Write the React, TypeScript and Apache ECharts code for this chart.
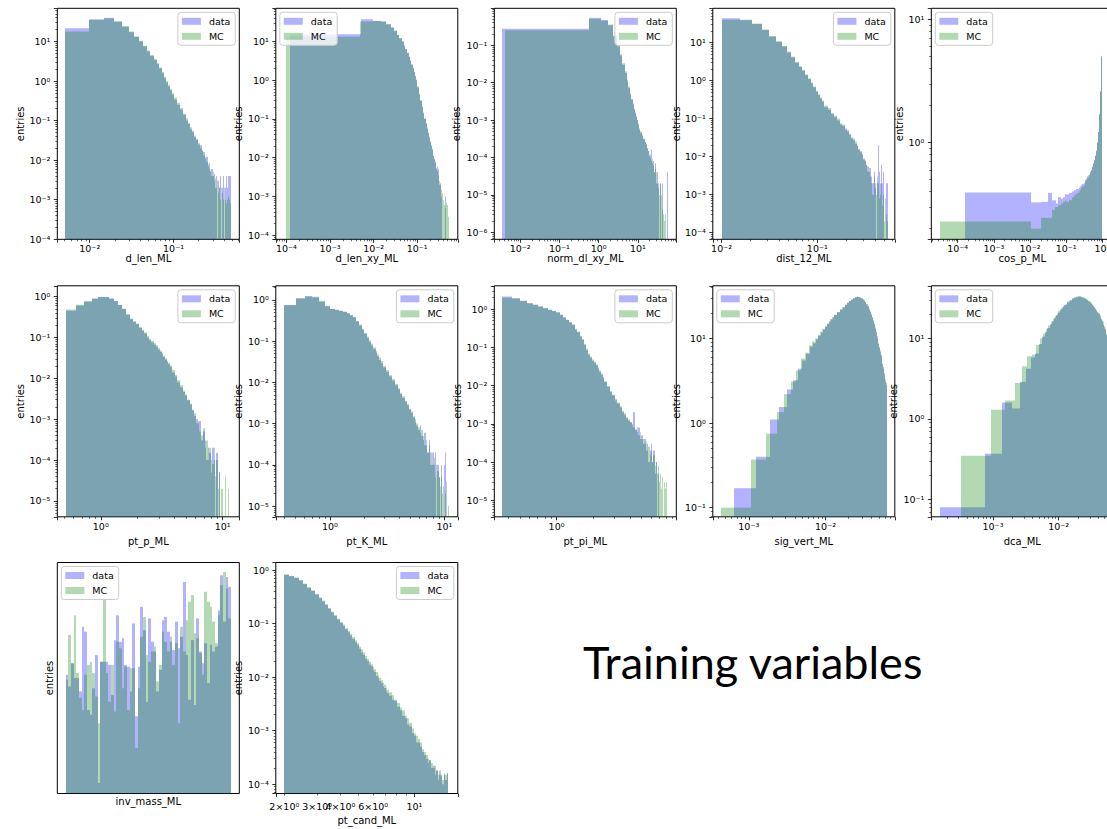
import React, { useEffect, useRef } from "react";
import * as echarts from "echarts";

type Seg = [number, number, number]; // [first edge, bin width, bin count]

// ---------- panel names ----------
const xNames = ["d_len_ML", "d_len_xy_ML", "norm_dl_xy_ML", "dist_12_ML", "cos_p_ML", "pt_p_ML", "pt_K_ML", "pt_pi_ML", "sig_vert_ML", "dca_ML", "inv_mass_ML", "pt_cand_ML"];
const yName = "entries";
const seriesNames = ["data", "MC"];
const titleText = "Training variables";

// ---------- axis ranges ----------
const xRanges: [number, number][] = [[0.0041, 0.61], [5.7e-5, 0.857], [0.0022, 95], [0.0081, 0.645], [1.87e-5, 2.0], [0.44, 13.7], [0.336, 13.1], [0.308, 9.63], [3.4e-4, 0.08], [1.15e-4, 0.068], [2.20225, 2.37275], [1.8, 17.1]];
const yRanges: [number, number][] = [[1e-4, 69], [7.8e-5, 72], [6.5e-7, 0.97], [6.7e-5, 80], [0.164, 12.3], [4.1e-6, 1.83], [5.5e-6, 2.2], [3.7e-6, 4.1], [0.078, 42], [0.061, 45], [2, 8], [6.7e-5, 1.39]];
const ptCandTickValues = [2, 3, 4, 6];
const ptCandTickLabels = ["2×10⁰", "3×10⁰", "4×10⁰", "6×10⁰"];

// ---------- 1. d_len_ML ----------
const dLenBins: Seg[] = [[0.0051, 0.0048, 20], [0.1011, 0.0096, 40]];
const dLenData = [21.7, 36.7, 40, 32, 24, 17, 12.9, 10, 7.5, 5.6, 4.3, 3.4, 2.7, 2.1, 1.58, 1.18, 0.92, 0.73, 0.58, 0.45,
  0.34, 0.25, 0.19, 0.14, 0.1, 0.085, 0.06, 0.055, 0.038, 0.035, 0.025, 0.024, 0.017, 0.016, 0.011, 0.012, 0.007, 0.0085, 0.005, 0.006,
  0.004, 0.0045, 0.002, 0.004, 0, 0.003, 0.002, 0.004, 0, 0.002, 0.004, 0, 0.002, 0, 0.004, 0.002, 0.004, 0, 0.004, 0.004];
const dLenMC = [17.9, 35, 38, 32, 24, 17.9, 13.6, 10.5, 7.8, 5.9, 4.6, 3.6, 2.85, 2.2, 1.7, 1.28, 1.0, 0.8, 0.64, 0.5,
  0.38, 0.28, 0.21, 0.15, 0.115, 0.085, 0.068, 0.05, 0.042, 0.032, 0.027, 0.02, 0.018, 0.013, 0.012, 0.009, 0.008, 0.006, 0.0055, 0.004,
  0.005, 0.003, 0.0035, 0.002, 0.003, 0.0015, 0.002, 0.001, 0.002, 0.0015, 0.001, 0.002, 0.001, 0.0015, 0.0008, 0.001, 0.0012, 0.0005, 0.001, 0.0008];

// ---------- 2. d_len_xy_ML ----------
const dLenXyBinsData: Seg[] = [[0.00012, 0.0049, 20], [0.09812, 0.0098, 36]];
const dLenXyBinsMC: Seg[] = [[0.0001, 0.0049, 20], [0.0981, 0.0098, 45]];
const dLenXyData = [15.4, 37.6, 34, 33, 28, 23, 19, 14.8, 12, 10, 7.7, 6.3, 5, 4, 3.2, 2.5, 2.0, 1.6, 1.25, 1.0,
  0.65, 0.42, 0.29, 0.2, 0.14, 0.1, 0.075, 0.055, 0.042, 0.032, 0.025, 0.02, 0.016, 0.013, 0.011, 0.009, 0.0075, 0.0065, 0.005, 0.006,
  0.004, 0.005, 0.003, 0.002, 0.004, 0.002, 0.001, 0.002, 0, 0.002, 0.001, 0, 0.001, 0, 0, 0.001];
const dLenXyMC = [13.2, 32.7, 34, 33, 28, 23, 19, 15, 12.3, 10, 7.9, 6.4, 5.1, 4.1, 3.3, 2.6, 2.1, 1.65, 1.3, 1.05,
  0.7, 0.45, 0.31, 0.21, 0.15, 0.105, 0.08, 0.06, 0.045, 0.035, 0.027, 0.021, 0.017, 0.014, 0.011, 0.0095, 0.008, 0.0065, 0.0055, 0.0045,
  0.004, 0.0035, 0.003, 0.0025, 0.002, 0.0022, 0.0015, 0.0018, 0.0012, 0.001, 0.0015, 0.0008, 0.001, 0.0006, 0.0012, 0.0005, 0.0008, 0.0004, 0.0007, 0.0003,
  0.0006, 0.0002, 0.0005, 0.0003, 0.0004];

// ---------- 3. norm_dl_xy_ML ----------
const normDlBinsData: Seg[] = [[0.0035, 0.57, 20], [11.4035, 1.14, 40]];
const normDlBinsMC: Seg[] = [[0.0042, 0.57, 20], [11.4042, 1.14, 38]];
const normDlData = [0.274, 0.54, 0.47, 0.34, 0.17, 0.094, 0.053, 0.03, 0.018, 0.011, 0.0072, 0.0048, 0.0035, 0.0026, 0.0019, 0.0015, 0.0012, 0.001, 0.00076, 0.00055,
  0.00045, 0.00038, 0.0003, 0.00026, 0.00022, 0.00018, 0.00015, 0.00012, 0.0001, 0.00016, 0.00007, 0.00008, 0.00006, 0.00004, 0.00007, 0.00004, 0.00002, 0.00004, 0.00004, 0.00002,
  0.00004, 0, 0.00002, 0.00004, 0, 0.00004, 0, 0.00002, 0, 0, 0.00004, 0, 0, 0.00002, 0, 0, 0, 0.00004, 0, 0.00004];
const normDlMC = [0.252, 0.5, 0.45, 0.36, 0.18, 0.1, 0.057, 0.033, 0.02, 0.012, 0.008, 0.0052, 0.0037, 0.0028, 0.002, 0.0016, 0.0013, 0.001, 0.0008, 0.0006,
  0.0005, 0.0004, 0.00032, 0.00026, 0.00023, 0.00017, 0.00015, 0.00011, 0.00012, 0.00008, 0.00009, 0.00006, 0.00007, 0.00004, 0.00005, 0.00003, 0.00004, 0.00002, 0.00003, 0.000015,
  0.00002, 0.00001, 0.00002, 0.000008, 0.00001, 0.000005, 0.000012, 0.000004, 0.000008, 0.000003, 0.000005, 0.000002, 0.000004, 0, 0.000003, 0.000002, 0, 0.000002];

// ---------- 4. dist_12_ML ----------
const dist12Bins: Seg[] = [[0.01, 0.0054, 20], [0.118, 0.0108, 40]];
const dist12Data = [44, 40, 31, 21.6, 14.4, 10.6, 7.9, 5.5, 4.1, 2.96, 2.3, 1.83, 1.41, 1.1, 0.85, 0.67, 0.51, 0.42, 0.34, 0.28,
  0.2, 0.17, 0.14, 0.11, 0.09, 0.075, 0.065, 0.055, 0.046, 0.038, 0.032, 0.027, 0.022, 0.019, 0.016, 0.013, 0.011, 0.009, 0.0075, 0.006,
  0.0055, 0.004, 0.005, 0.003, 0.002, 0.004, 0.002, 0, 0.002, 0.02, 0.004, 0.002, 0.006, 0.002, 0.004, 0, 0, 0.002, 0, 0.002];
const dist12MC = [40, 39, 32, 22, 14.8, 10.8, 8.2, 5.8, 4.3, 3.1, 2.4, 1.9, 1.45, 1.15, 0.9, 0.7, 0.54, 0.44, 0.36, 0.3,
  0.22, 0.19, 0.13, 0.12, 0.1, 0.07, 0.07, 0.05, 0.05, 0.04, 0.03, 0.03, 0.025, 0.02, 0.015, 0.014, 0.012, 0.008, 0.008, 0.006,
  0.004, 0.005, 0.003, 0.002, 0.001, 0.003, 0.0015, 0.001, 0.003, 0.002, 0.0008, 0.001, 0.002, 0.0005, 0.001, 0.0002, 0.0008, 0.0003, 0.0005, 0.0002];

// ---------- 5. cos_p_ML ----------
const cosPBinsData: Seg[] = [[0.00016, 0.01054, 1], [0.0107, 0.01, 9], [0.1007, 0.02, 40], [0.9007, 0.01, 10]];
const cosPBinsMC: Seg[] = [[0.000032, 0.010468, 1], [0.0105, 0.01, 9], [0.1005, 0.02, 40], [0.9005, 0.01, 10]];
const cosPData = [0.394, 0.327, 0.33, 0.39, 0.34, 0.32, 0.36, 0.35, 0.36, 0.38,
  0.38, 0.39, 0.40, 0.41, 0.42, 0.42, 0.43, 0.44, 0.45, 0.46, 0.47, 0.48, 0.50, 0.51, 0.53, 0.54, 0.55, 0.57, 0.58, 0.60,
  0.62, 0.64, 0.66, 0.68, 0.70, 0.72, 0.75, 0.78, 0.82, 0.86, 0.9, 1.0, 1.1, 1.22, 1.35, 1.5, 1.7, 1.95, 2.25, 2.6,
  3.2, 3.6, 4.0, 4.5, 5.0, 5.6, 6.3, 7.2, 8.4, 10.0];
const cosPMC = [0.229, 0.2, 0.245, 0.245, 0.284, 0.3, 0.31, 0.32, 0.33, 0.34,
  0.33, 0.34, 0.36, 0.37, 0.38, 0.39, 0.40, 0.41, 0.43, 0.44, 0.45, 0.46, 0.48, 0.49, 0.51, 0.52, 0.54, 0.55, 0.57, 0.59,
  0.61, 0.63, 0.65, 0.67, 0.69, 0.72, 0.75, 0.78, 0.82, 0.86, 0.9, 1.0, 1.1, 1.22, 1.35, 1.5, 1.7, 1.95, 2.25, 2.6,
  3.2, 3.6, 4.0, 4.5, 5.0, 5.6, 6.3, 7.2, 8.5, 10.5];

// ---------- 6. pt_p_ML ----------
const ptPBins: Seg[] = [[0.515, 0.11, 30], [3.815, 0.22, 34]];
const ptPData = [0.45, 0.6, 0.75, 0.88, 0.98, 0.97, 0.9, 0.78, 0.62, 0.5, 0.36, 0.28, 0.24, 0.21, 0.17, 0.145, 0.125, 0.1, 0.085, 0.075,
  0.066, 0.059, 0.05, 0.044, 0.039, 0.033, 0.029, 0.025, 0.022, 0.019,
  0.014, 0.011, 0.008, 0.006, 0.0046, 0.0038, 0.0029, 0.0023, 0.0017, 0.0012, 0.001, 0.0008, 0.0009, 0.0003, 0.0005, 0.0003, 0.0001, 0.0002, 0.00015, 0.00005,
  0.0002, 0.0001, 0, 0.00015, 0, 0.00005, 0, 0, 0, 0, 0, 0, 0, 0];
const ptPMC = [0.48, 0.63, 0.78, 0.9, 0.98, 0.96, 0.88, 0.77, 0.62, 0.5, 0.37, 0.29, 0.25, 0.22, 0.18, 0.155, 0.132, 0.11, 0.093, 0.082,
  0.072, 0.064, 0.055, 0.048, 0.042, 0.036, 0.031, 0.027, 0.024, 0.021,
  0.016, 0.012, 0.009, 0.0068, 0.005, 0.004, 0.003, 0.0024, 0.0016, 0.0014, 0.0008, 0.0009, 0.0005, 0.0004, 0.0006, 0.0002, 0.0003, 0.0001, 0.0002, 0.0001,
  0.00008, 0.0002, 0.00004, 0.0001, 0.00002, 0.00005, 0, 0.00002, 0, 0, 0.00004, 0, 0, 0.00002];

// ---------- 7. pt_K_ML ----------
const ptKBins: Seg[] = [[0.4, 0.1, 25], [2.9, 0.2, 40]];
const ptKData = [0.75, 1.1, 1.25, 1.2, 0.9, 0.7, 0.6, 0.57, 0.54, 0.51, 0.47, 0.42, 0.38, 0.3, 0.24, 0.19, 0.15, 0.12, 0.095, 0.078,
  0.064, 0.052, 0.043, 0.035, 0.029,
  0.023, 0.018, 0.014, 0.011, 0.0085, 0.0068, 0.0052, 0.0042, 0.0034, 0.0028, 0.0022, 0.0018, 0.0014, 0.0011, 0.0009, 0.0007, 0.0009, 0.0005, 0.0004, 0.0006,
  0.0003, 0.0002, 0.0004, 0.0002, 0.0001, 0.0002, 0.0001, 0.0002, 0, 0.0001, 0.00005, 0, 0.0001, 0, 0, 0.0001, 0.0002, 0, 0, 0];
const ptKMC = [0.74, 1.08, 1.2, 1.15, 0.95, 0.72, 0.61, 0.58, 0.55, 0.52, 0.48, 0.43, 0.39, 0.31, 0.25, 0.2, 0.16, 0.13, 0.105, 0.086,
  0.071, 0.058, 0.048, 0.04, 0.033,
  0.025, 0.02, 0.015, 0.012, 0.0092, 0.0072, 0.0056, 0.0046, 0.0036, 0.003, 0.0023, 0.002, 0.0015, 0.0013, 0.001, 0.0008, 0.0006, 0.0007, 0.0005, 0.0003,
  0.0004, 0.0002, 0.0003, 0.0001, 0.0002, 0.0001, 0.00015, 0.00005, 0.0001, 0.00007, 0.00005, 0.00003, 0.00005, 0.00002, 0.00003, 0, 0.00002, 0.00004, 0, 0.00001];

// ---------- 8. pt_pi_ML ----------
const ptPiBins: Seg[] = [[0.358, 0.07, 30], [2.458, 0.14, 40]];
const ptPiData = [2.15, 1.95, 1.66, 1.44, 1.3, 1.17, 1.06, 0.96, 0.9, 0.83, 0.71, 0.6, 0.52, 0.455, 0.39, 0.29, 0.25, 0.19, 0.156, 0.115,
  0.085, 0.063, 0.054, 0.044, 0.04, 0.034, 0.028, 0.023, 0.019, 0.016,
  0.0125, 0.0093, 0.0068, 0.0056, 0.0041, 0.0034, 0.0027, 0.002, 0.0017, 0.0014, 0.0012, 0.0011, 0.0009, 0.002, 0.0007, 0.0006, 0.0008, 0.0004, 0.0005, 0.0003,
  0.0004, 0.0002, 0.0003, 0.0001, 0.0002, 0.0003, 0.0001, 0.0002, 0.00005, 0.0001, 0, 0.00005, 0, 0, 0, 0, 0, 0, 0, 0];
const ptPiMC = [2.0, 1.9, 1.64, 1.44, 1.3, 1.18, 1.07, 0.97, 0.9, 0.83, 0.72, 0.62, 0.53, 0.46, 0.4, 0.31, 0.26, 0.2, 0.165, 0.125,
  0.092, 0.07, 0.058, 0.048, 0.042, 0.036, 0.03, 0.025, 0.021, 0.017,
  0.013, 0.0098, 0.0072, 0.0058, 0.0045, 0.0036, 0.0029, 0.0022, 0.0019, 0.0015, 0.0013, 0.0011, 0.001, 0.0008, 0.0007, 0.0008, 0.0005, 0.0006, 0.0004, 0.0004,
  0.0003, 0.00035, 0.0002, 0.00025, 0.00015, 0.0002, 0.0001, 0.00015, 0.00008, 0.0001, 0.00005, 0.00008, 0.00003, 0.00005, 0.00002, 0.00004, 0, 0.00003, 0.00002, 0.00003];

// ---------- 9. sig_vert_ML ----------
const sigVertBinsData: Seg[] = [[0.00064, 0.00062, 20], [0.01304, 0.00124, 40]];
const sigVertBinsMC: Seg[] = [[0.00044, 0.00062, 20], [0.01284, 0.00124, 40]];
const sigVertData = [0.17, 0.4, 1.1, 1.55, 2.5, 3.2, 4.4, 5.5, 6.6, 8.0, 8.8, 9.8, 10.8, 11.8, 12.8, 13.8, 14.8, 15.8, 16.8, 17.8,
  19, 20.5, 22, 23.5, 25, 26.5, 28, 29, 30, 31, 31.5, 31, 30.5, 30, 29, 28, 27, 25.5, 24, 22,
  20.5, 19, 17.5, 16, 14.5, 13, 11.8, 10.6, 9.6, 8.6, 7.7, 6.9, 6.2, 5.5, 4.9, 4.4, 3.9, 3.5, 3.1, 2.8];
const sigVertMC = [0.1, 0.37, 0.75, 1.35, 2.2, 3.1, 4.2, 5.8, 6.8, 8.3, 9.2, 10, 11, 12, 13, 14, 15, 16, 17, 18,
  19, 20.5, 22, 23.5, 25, 26.5, 27.5, 29, 30, 30.5, 31, 31, 30.5, 30, 29, 28, 27, 25.5, 24, 22.5,
  21, 19.5, 18, 16.5, 15, 13.5, 12.2, 11, 9.9, 8.9, 8, 7.2, 6.4, 5.7, 5.1, 4.6, 4.1, 3.7, 3.3, 3.0];

// ---------- 10. dca_ML ----------
const dcaBinsData: Seg[] = [[0.000154, 0.0006, 20], [0.012154, 0.0012, 41]];
const dcaBinsMC: Seg[] = [[0.00033, 0.0006, 20], [0.01233, 0.0012, 41]];
const dcaData = [0.08, 0.37, 1.6, 1.35, 2.9, 4.2, 5.8, 6.5, 8.5, 10.5, 12, 13.5, 15, 16.5, 18, 19.5, 21, 22, 23.5, 24.5,
  26, 28, 29.5, 31, 32, 32.5, 33, 33, 32.5, 32, 31.5, 31, 30, 29, 28.5, 28, 27, 26, 25,
  24, 23, 22, 21, 20.5, 20, 19, 18, 17, 16.2, 15.5, 14.7, 13.8, 12.8, 11.8, 11, 10, 9, 8.2, 7.4, 6.7, 6];
const dcaMC = [0.35, 1.3, 1.7, 2.8, 4.5, 6.0, 6.3, 8.3, 10, 11.5, 13, 14.5, 16, 17.5, 19, 20.5, 22, 23, 24.5, 25.5,
  26.5, 28.5, 30, 31.5, 32.5, 33, 33.5, 33.5, 33, 32.5, 32, 31.5, 30.5, 29.5, 29, 28.5, 27.5, 26.5, 25.5,
  24.5, 23.5, 22.5, 21.5, 21, 20.5, 19.5, 18.5, 17.5, 16.7, 16, 15.2, 14.2, 13.2, 12.2, 11.4, 10.4, 9.4, 8.6, 7.8, 7, 6.3];

// ---------- 11. inv_mass_ML ----------
const invMassBins: Seg[] = [[2.21, 0.0025, 62]];
const invMassData = [4.08, 3.80, 4.37, 4.0, 4.0, 3.69, 5.44, 5.28, 3.30, 3.21, 3.76, 4.59, 2.13, 4.41, 4.41, 4.41, 4.33, 3.61, 5.02, 5.83,
  4.97, 5.08, 4.33, 4.28, 3.69, 5.55, 3.18, 4.28, 6.13, 5.33, 3.47, 5.72, 4.97, 4.69, 3.69, 4.2, 5.66, 5.77, 5.28, 4.97,
  4.73, 5.61, 4.78, 5.12, 7.12, 4.59, 3.51, 5.02, 3.40, 5.72, 4.69, 4.37, 4.93, 3.88, 4.88, 4.69, 4.83, 6.01, 7.41, 5.61,
  7.33, 6.91];
const invMassMC = [3.96, 5.18, 4.37, 5.83, 4.12, 3.55, 3.30, 4.08, 4.33, 4.41, 4.12, 3.58, 3.05, 4.41, 6.44, 4.12, 3.47, 4.33, 3.27, 4.97,
  4.78, 3.76, 4.28, 3.30, 4.24, 4.24, 2.63, 3.76, 5.12, 5.77, 4.59, 4.41, 4.69, 4.83, 3.92, 4.33, 5.28, 4.97, 4.69, 5.12,
  4.33, 4.93, 3.05, 5.44, 4.69, 5.66, 6.32, 6.58, 5.23, 5.08, 4.64, 4.08, 6.71, 6.32, 6.13, 5.61, 4.93, 5.83, 6.98, 7.56,
  6.84, 5.72];

// ---------- 12. pt_cand_ML ----------
const ptCandBins: Seg[] = [[2.0, 0.132, 40], [7.28, 0.264, 30]];
const ptCandData = [0.82, 0.77, 0.72, 0.64, 0.55, 0.47, 0.41, 0.35, 0.3, 0.26, 0.225, 0.19, 0.163, 0.14, 0.12, 0.103, 0.09, 0.078, 0.069, 0.06,
  0.052, 0.045, 0.04, 0.034, 0.029, 0.026, 0.022, 0.02, 0.017, 0.016, 0.0135, 0.0125, 0.0105, 0.0098, 0.0085, 0.0078, 0.0068, 0.0063, 0.0054, 0.005,
  0.0045, 0.0038, 0.0036, 0.0028, 0.0024, 0.0019, 0.0017, 0.0013, 0.0012, 0.0009, 0.0008, 0.0006, 0.0006, 0.0005, 0.0004, 0.00035, 0.0003, 0.00025, 0.00028, 0.0002,
  0.00022, 0.00015, 0.00018, 0.00012, 0.00015, 0.00014, 0.0001, 0.00015, 0.00012, 0.00016];
const ptCandMC = [0.83, 0.78, 0.72, 0.65, 0.56, 0.48, 0.42, 0.36, 0.31, 0.27, 0.23, 0.196, 0.167, 0.144, 0.124, 0.107, 0.096, 0.082, 0.073, 0.064,
  0.056, 0.049, 0.043, 0.037, 0.033, 0.029, 0.025, 0.022, 0.0195, 0.0175, 0.0155, 0.014, 0.0125, 0.011, 0.0098, 0.0088, 0.0079, 0.0072, 0.0065, 0.0058,
  0.0052, 0.0046, 0.0038, 0.0033, 0.0027, 0.0024, 0.0019, 0.0017, 0.0014, 0.0011, 0.0009, 0.0008, 0.0007, 0.0006, 0.00045, 0.0004, 0.00035, 0.0003, 0.00028, 0.00025,
  0.0002, 0.00022, 0.00018, 0.00015, 0.00018, 0.00015, 0.00012, 0.00016, 0.00015, 0.00016];

// ---------- table built from the arrays ----------
const histograms: [Seg[], number[], Seg[], number[]][] = [
  [dLenBins, dLenData, dLenBins, dLenMC],
  [dLenXyBinsData, dLenXyData, dLenXyBinsMC, dLenXyMC],
  [normDlBinsData, normDlData, normDlBinsMC, normDlMC],
  [dist12Bins, dist12Data, dist12Bins, dist12MC],
  [cosPBinsData, cosPData, cosPBinsMC, cosPMC],
  [ptPBins, ptPData, ptPBins, ptPMC],
  [ptKBins, ptKData, ptKBins, ptKMC],
  [ptPiBins, ptPiData, ptPiBins, ptPiMC],
  [sigVertBinsData, sigVertData, sigVertBinsMC, sigVertMC],
  [dcaBinsData, dcaData, dcaBinsMC, dcaMC],
  [invMassBins, invMassData, invMassBins, invMassMC],
  [ptCandBins, ptCandData, ptCandBins, ptCandMC],
];

// ---------- layout / style ----------
const W = 1107;
const H = 829;
const COLS = [57.3, 275.8, 494.3, 712.8, 931.3];
const ROWS = [8.3, 285.8, 562.5];
const PW = 182;
const PH = 231;
const legendOnLeft = [false, true, false, false, true, false, false, false, true, true, true, false];
const yNameGaps = [32, 32, 33, 31, 27, 32, 32, 32, 31, 33, 3, 32];
const xNameGaps = [14, 14, 14, 14, 14, 20, 20, 20, 20, 20, 3, 22];
const xLabelMargins = [4, 4, 4, 4, 4, 5, 5, 5, 5, 5, 4, 8];
const DATA_COLOR = "rgba(0,0,255,0.3)";
const MC_COLOR = "rgba(0,128,0,0.3)";
const FONT = "DejaVu Sans";

const SUP: Record<string, string> = { "-": "⁻", "0": "⁰", "1": "¹", "2": "²", "3": "³", "4": "⁴", "5": "⁵", "6": "⁶", "7": "⁷", "8": "⁸", "9": "⁹" };
function powLabel(v: number): string {
  if (!(v > 0)) return "";
  const e = Math.log10(v);
  const r = Math.round(e);
  if (Math.abs(e - r) > 1e-6) return "";
  return "10" + String(r).split("").map((c) => SUP[c]).join("");
}

function edgesFrom(segs: Seg[]): number[] {
  const e: number[] = [];
  segs.forEach(([s, w, n], k) => {
    for (let i = k === 0 ? 0 : 1; i <= n; i++) e.push(s + w * i);
  });
  return e;
}

function histItems(segs: Seg[], values: number[]) {
  const e = edgesFrom(segs);
  const n = Math.min(values.length, e.length - 1);
  const out: number[][] = [];
  for (let i = 0; i < n; i++) out.push([e[i], e[i + 1], values[i]]);
  return out;
}

function renderHist(color: string) {
  return (params: any, api: any) => {
    const v = api.value(2);
    if (!(v > 0)) return null;
    const cs = params.coordSys;
    const a = api.coord([api.value(0), v]);
    const b = api.coord([api.value(1), v]);
    const bottom = cs.y + cs.height;
    const top = Math.max(cs.y, a[1]);
    if (!(top < bottom)) return null;
    const x0 = Math.round(Math.max(cs.x, a[0]));
    const x1 = Math.round(Math.min(cs.x + cs.width, b[0]));
    if (x1 <= x0) return null;
    return { type: "rect", shape: { x: x0, y: top, width: x1 - x0, height: bottom - top }, style: { fill: color } };
  };
}

function panelBox(i: number) {
  return { left: COLS[i % 5], top: ROWS[Math.floor(i / 5)], width: PW, height: PH };
}

function buildOption() {
  const grids: any[] = [];
  const xAxes: any[] = [];
  const yAxes: any[] = [];
  const legends: any[] = [];
  const series: any[] = [];
  const tickStyle = { show: true, length: 3.5, lineStyle: { color: "#000", width: 0.8 } };
  const minorStyle = { show: true, splitNumber: 9, length: 2, lineStyle: { color: "#000", width: 0.6 } };
  const labelStyle = { fontSize: 9.5, fontFamily: FONT, color: "#000", formatter: powLabel };
  const nameStyle = { fontSize: 10, fontFamily: FONT, color: "#000" };

  xNames.forEach((name, i) => {
    const box = panelBox(i);
    const plain = i === 10;
    grids.push({ ...box, show: true, borderColor: "#000", borderWidth: 1, backgroundColor: "transparent", containLabel: false, outerBoundsMode: "none" });
    xAxes.push({
      type: plain ? "value" : "log", logBase: 10, gridIndex: i,
      min: xRanges[i][0], max: xRanges[i][1],
      name, nameLocation: "middle", nameGap: xNameGaps[i], nameTextStyle: nameStyle, nameMoveOverlap: false,
      axisLine: { show: false },
      axisTick: plain ? { show: false } : tickStyle,
      minorTick: plain ? { show: false } : minorStyle,
      axisLabel: plain ? { show: false } : { ...labelStyle, margin: xLabelMargins[i] },
      splitLine: { show: false },
    });
    yAxes.push({
      type: "log", logBase: 10, gridIndex: i,
      min: yRanges[i][0], max: yRanges[i][1],
      name: yName, nameLocation: "middle", nameGap: yNameGaps[i], nameTextStyle: nameStyle, nameMoveOverlap: false,
      axisLine: { show: false },
      axisTick: plain ? { show: false } : tickStyle,
      minorTick: plain ? { show: false } : minorStyle,
      axisLabel: plain ? { show: false } : { ...labelStyle, margin: 7 },
      splitLine: { show: false },
    });
    const pos = legendOnLeft[i] ? { left: box.left + 4 } : { right: W - (box.left + box.width) + 4 };
    legends.push({
      ...pos, top: box.top + 4,
      data: seriesNames, orient: "vertical", icon: "rect",
      itemWidth: 19, itemHeight: 7, itemGap: 5, padding: [4, 5, 4, 4],
      backgroundColor: "rgba(255,255,255,0.8)", borderColor: "#cccccc", borderWidth: 1, borderRadius: 3,
      textStyle: { fontSize: 9.5, fontFamily: FONT, color: "#000", padding: [0, 0, 0, 3] },
      selectedMode: false,
    });
    const [binsD, valsD, binsM, valsM] = histograms[i];
    [[binsD, valsD, DATA_COLOR, seriesNames[0]], [binsM, valsM, MC_COLOR, seriesNames[1]]].forEach(([bins, vals, color, sname]: any) => {
      series.push({
        type: "custom", name: sname, coordinateSystem: "cartesian2d",
        xAxisIndex: i, yAxisIndex: i,
        itemStyle: { color },
        encode: { x: [0, 1], y: 2 },
        renderItem: renderHist(color),
        data: histItems(bins, vals),
        silent: true,
      });
    });
  });

  return {
    animation: false,
    backgroundColor: "#ffffff",
    grid: grids,
    xAxis: xAxes,
    yAxis: yAxes,
    legend: legends,
    series,
  };
}

export default function App() {
  const ref = useRef<HTMLDivElement>(null);
  useEffect(() => {
    if (!ref.current) return;
    const chart = echarts.init(ref.current, undefined, { renderer: "svg", width: W, height: H });
    chart.setOption(buildOption() as any);
    const box = panelBox(11);
    const extra: any[] = ptCandTickValues.map((v, k) => {
      const px = chart.convertToPixel({ xAxisIndex: 11 } as any, v) as unknown as number;
      return {
        type: "text", x: px, y: box.top + box.height + xLabelMargins[11], silent: true,
        style: { text: ptCandTickLabels[k], fontSize: 9.5, fontFamily: FONT, fill: "#000", align: "center", verticalAlign: "top" },
      };
    });
    chart.setOption({
      graphic: [
        { type: "text", x: 583, y: 662, silent: true, style: { text: titleText, fontSize: 45, fontFamily: "Lato", fill: "#000", verticalAlign: "middle" } },
        ...extra,
      ],
    } as any);
    return () => chart.dispose();
  }, []);
  return <div ref={ref} style={{ position: "fixed", left: 0, top: 0, width: W, height: H, background: "#fff" }} />;
}
